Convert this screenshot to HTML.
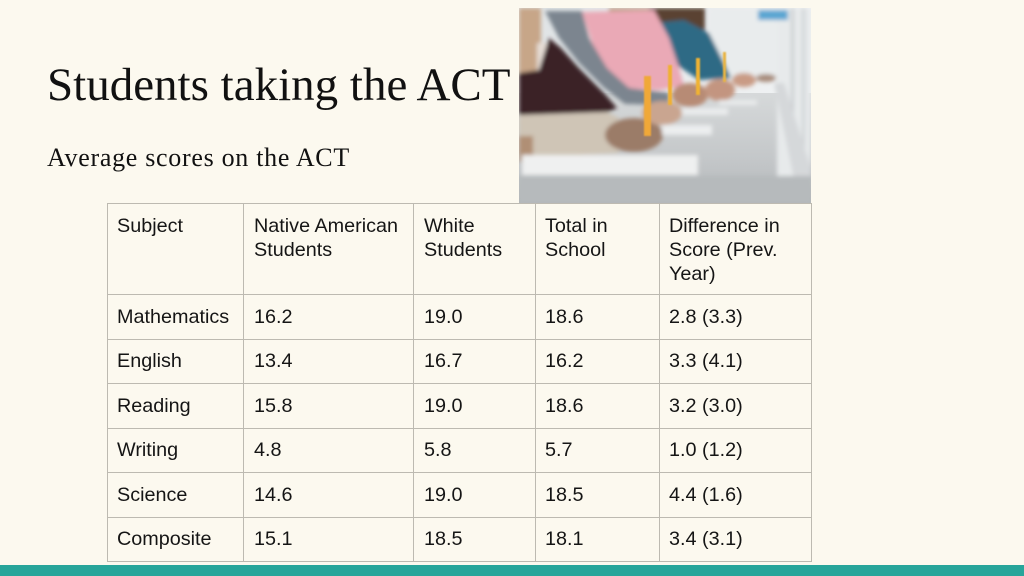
<!DOCTYPE html>
<html>
<head>
<meta charset="utf-8">
<style>
  html, body { margin:0; padding:0; }
  body { width:1024px; height:576px; background:#fcf9ef; position:relative; overflow:hidden; font-family:"Liberation Sans", Arial, sans-serif; color:#111; }
  .title { position:absolute; left:47px; top:62px; font-family:"Liberation Serif", serif; font-size:47px; line-height:47px; color:#111; white-space:nowrap; }
  .sub { position:absolute; left:47px; top:145px; font-family:"Liberation Serif", serif; font-size:26px; line-height:26px; letter-spacing:0.7px; color:#111; white-space:nowrap; }
  .photo { position:absolute; left:519px; top:8px; width:292px; height:195px; }
  .h { position:absolute; height:1px; background:#bdbab1; left:107px; width:705px; }
  .v { position:absolute; width:1px; background:#bdbab1; top:203px; height:358px; }
  .t { position:absolute; font-size:19.8px; line-height:24px; white-space:nowrap; color:#151515; }
  .bar { position:absolute; left:0; top:565px; width:1024px; height:11px; background:#27a59a; }
</style>
</head>
<body>
<div class="title">Students taking the ACT</div>
<div class="sub">Average scores on the ACT</div>

<svg class="photo" viewBox="0 0 292 195" width="292" height="195">
  <defs>
    <filter id="b" x="-10%" y="-10%" width="120%" height="120%"><feGaussianBlur stdDeviation="2.2"/></filter>
    <filter id="b2" x="-50%" y="-10%" width="200%" height="120%"><feGaussianBlur stdDeviation="0.8"/></filter>
    <linearGradient id="desk" x1="0" y1="0" x2="0" y2="1">
      <stop offset="0" stop-color="#d6d9da"/>
      <stop offset="0.6" stop-color="#c4c7c9"/>
      <stop offset="1" stop-color="#b3b7b9"/>
    </linearGradient>
    <linearGradient id="wall" x1="0" y1="0" x2="1" y2="0">
      <stop offset="0" stop-color="#dfe3e5"/>
      <stop offset="1" stop-color="#f1f3f4"/>
    </linearGradient>
    <clipPath id="c"><rect x="0" y="0" width="292" height="195"/></clipPath>
  </defs>
  <g clip-path="url(#c)">
  <rect x="0" y="0" width="292" height="195" fill="url(#wall)"/>
  <rect x="0" y="85" width="292" height="110" fill="url(#desk)"/>
  <g filter="url(#b)">
    <!-- right window area -->
    <rect x="190" y="0" width="70" height="70" fill="#e9eced"/>
    <rect x="258" y="0" width="34" height="195" fill="#e7eaeb"/>
    <rect x="272" y="0" width="3" height="150" fill="#c9cdd0"/>
    <rect x="283" y="0" width="3" height="170" fill="#cfd3d5"/>
    <rect x="239" y="2" width="30" height="10" fill="#5aa6d2"/>
    <path d="M255 75 L265 75 L292 160 L292 195 L280 195 Z" fill="#d5d8da"/>
    <!-- desk shades -->
    <rect x="0" y="168" width="292" height="27" fill="#b6babc"/>
    <!-- hair tops -->
    <rect x="90" y="0" width="45" height="10" fill="#b89a78"/>
    <rect x="130" y="0" width="56" height="22" fill="#5a4232"/>
    <!-- teal shirt -->
    <path d="M136 15 L165 12 L190 25 L205 55 L212 70 L180 72 L155 55 Z" fill="#2e6b85"/>
    <!-- pink shirt -->
    <path d="M63 4 L135 2 L150 30 L160 60 L165 78 L140 82 L100 80 L80 55 Z" fill="#eaa9b6"/>
    <!-- gray sleeve -->
    <path d="M26 3 L63 3 L70 30 L88 60 L110 80 L150 85 L150 97 L106 96 L85 80 L60 55 L40 30 Z" fill="#7b858f"/>
    <!-- tan/neck strip -->
    <rect x="0" y="0" width="22" height="70" fill="#c7a688"/>
    <rect x="18" y="35" width="16" height="60" fill="#e6ddd5"/>
    <!-- maroon -->
    <path d="M0 65 L20 62 L30 30 L42 40 L60 60 L85 85 L98 100 L80 108 L30 110 L0 108 Z" fill="#3b2327"/>
    <!-- beige sleeve -->
    <path d="M0 107 L88 104 L100 110 L100 145 L40 148 L0 150 Z" fill="#cfc5b6"/>
    <rect x="0" y="128" width="14" height="26" fill="#b08f74"/>
    <!-- hands -->
    <ellipse cx="115" cy="127" rx="29" ry="17" fill="#9b7b67"/>
    <ellipse cx="143" cy="105" rx="20" ry="12" fill="#c9a590"/>
    <ellipse cx="171" cy="87" rx="18" ry="12" fill="#b78b74"/>
    <ellipse cx="201" cy="82" rx="15" ry="11" fill="#c39580"/>
    <ellipse cx="225" cy="72" rx="12" ry="7" fill="#c99b85"/>
    <ellipse cx="247" cy="70" rx="10" ry="4" fill="#a88c7c"/>
    <!-- papers -->
    <rect x="3" y="147" width="176" height="20" fill="#eff0f0"/>
    <rect x="143" y="117" width="50" height="10" fill="#eceeef"/>
    <rect x="163" y="100" width="46" height="7" fill="#eaeced"/>
    <rect x="200" y="92" width="38" height="5" fill="#e9ebec"/>
  </g>
  <g filter="url(#b2)">
    <rect x="125" y="68" width="7" height="60" fill="#f0a838"/>
    <rect x="149" y="57" width="4" height="40" fill="#f0b030"/>
    <rect x="177" y="50" width="4" height="37" fill="#f0b232"/>
    <rect x="204" y="44" width="3" height="30" fill="#e8b443"/>
  </g>
  </g>
</svg>

<!-- table lines -->
<div class="h" style="top:203px"></div>
<div class="h" style="top:294px"></div>
<div class="h" style="top:339px"></div>
<div class="h" style="top:383px"></div>
<div class="h" style="top:428px"></div>
<div class="h" style="top:472px"></div>
<div class="h" style="top:517px"></div>
<div class="h" style="top:561px"></div>
<div class="v" style="left:107px"></div>
<div class="v" style="left:243px"></div>
<div class="v" style="left:413px"></div>
<div class="v" style="left:535px"></div>
<div class="v" style="left:659px"></div>
<div class="v" style="left:811px"></div>

<!-- header -->
<div class="t" style="left:117px; top:214px">Subject</div>
<div class="t" style="left:254px; top:214px">Native American<br>Students</div>
<div class="t" style="left:424px; top:214px">White<br>Students</div>
<div class="t" style="left:545px; top:214px">Total in<br>School</div>
<div class="t" style="left:669px; top:214px">Difference in<br>Score (Prev.<br>Year)</div>

<!-- rows -->
<div class="t" style="left:117px; top:305px">Mathematics</div>
<div class="t" style="left:254px; top:305px">16.2</div>
<div class="t" style="left:424px; top:305px">19.0</div>
<div class="t" style="left:545px; top:305px">18.6</div>
<div class="t" style="left:669px; top:305px">2.8 (3.3)</div>

<div class="t" style="left:117px; top:349px">English</div>
<div class="t" style="left:254px; top:349px">13.4</div>
<div class="t" style="left:424px; top:349px">16.7</div>
<div class="t" style="left:545px; top:349px">16.2</div>
<div class="t" style="left:669px; top:349px">3.3 (4.1)</div>

<div class="t" style="left:117px; top:394px">Reading</div>
<div class="t" style="left:254px; top:394px">15.8</div>
<div class="t" style="left:424px; top:394px">19.0</div>
<div class="t" style="left:545px; top:394px">18.6</div>
<div class="t" style="left:669px; top:394px">3.2 (3.0)</div>

<div class="t" style="left:117px; top:438px">Writing</div>
<div class="t" style="left:254px; top:438px">4.8</div>
<div class="t" style="left:424px; top:438px">5.8</div>
<div class="t" style="left:545px; top:438px">5.7</div>
<div class="t" style="left:669px; top:438px">1.0 (1.2)</div>

<div class="t" style="left:117px; top:483px">Science</div>
<div class="t" style="left:254px; top:483px">14.6</div>
<div class="t" style="left:424px; top:483px">19.0</div>
<div class="t" style="left:545px; top:483px">18.5</div>
<div class="t" style="left:669px; top:483px">4.4 (1.6)</div>

<div class="t" style="left:117px; top:527px">Composite</div>
<div class="t" style="left:254px; top:527px">15.1</div>
<div class="t" style="left:424px; top:527px">18.5</div>
<div class="t" style="left:545px; top:527px">18.1</div>
<div class="t" style="left:669px; top:527px">3.4 (3.1)</div>

<div class="bar"></div>
</body>
</html>
